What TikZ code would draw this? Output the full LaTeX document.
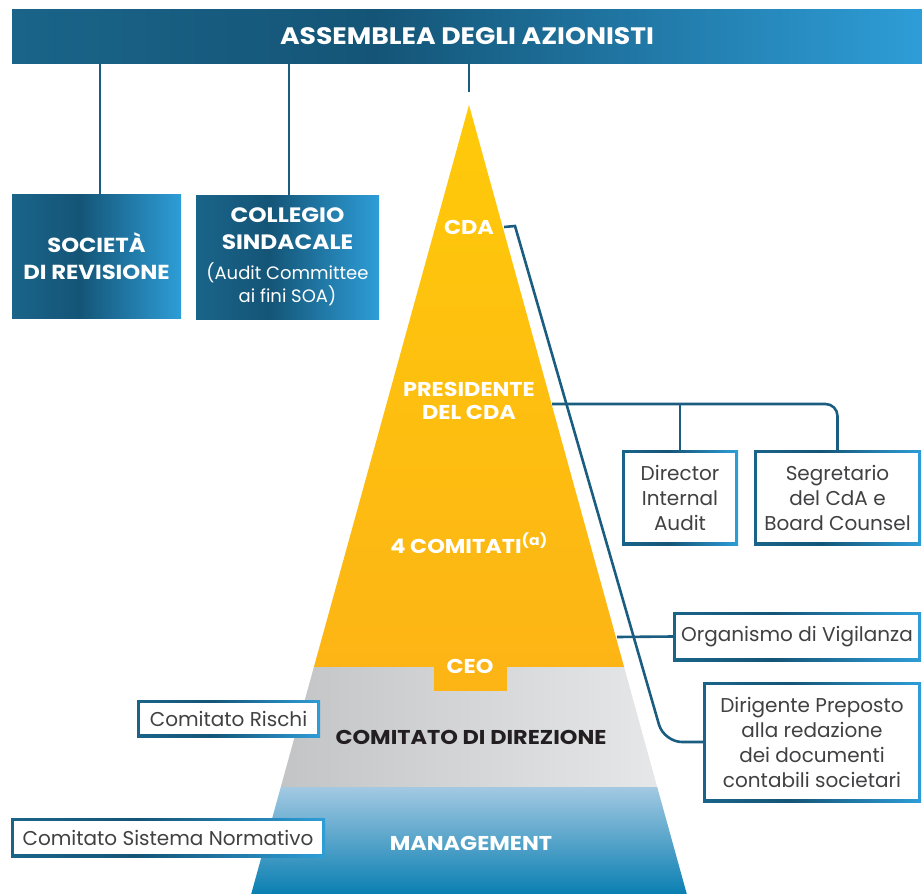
\documentclass[tikz,border=0pt]{standalone}
\usepackage{fontspec}
\setmainfont{Poppins}[BoldFeatures={FakeStretch=1.12}]
\usetikzlibrary{calc}
\definecolor{bA}{HTML}{1A6489}
\definecolor{bB}{HTML}{145577}
\definecolor{bC}{HTML}{2E9DD7}
\definecolor{conncol}{HTML}{1A5D80}
\definecolor{txtgray}{HTML}{414042}
\definecolor{yTop}{HTML}{FFCA0A}
\definecolor{yBot}{HTML}{FDB515}
\definecolor{gL}{HTML}{C3C4C6}
\definecolor{gR}{HTML}{E6E7E8}
\definecolor{mTop}{HTML}{A3C9E2}
\definecolor{mBot}{HTML}{0A7FB2}
\definecolor{darktxt}{HTML}{231F20}
\pgfdeclarehorizontalshading{bshade}{100bp}{color(0bp)=(bA); color(25bp)=(bA); color(45bp)=(bB); color(75bp)=(bC); color(100bp)=(bC)}
\tikzset{
  barbox/.style={rectangle, shading=bshade, inner sep=0pt, outer sep=0pt, text=white, font=\fontsize{23.8}{26}\selectfont\bfseries},
  tealbox/.style={rectangle, shading=bshade, inner sep=0pt, outer sep=0pt, text=white, align=center},
  gbox/.style={rectangle, shading=bshade, inner sep=0pt, outer sep=0pt, text=txtgray, align=center,
    font=\fontsize{20}{25}\selectfont,
    path picture={\fill[white] ([shift={(3.2pt,-3.2pt)}]path picture bounding box.north west) rectangle ([shift={(-3.2pt,3.2pt)}]path picture bounding box.south east);}},
  ptxt/.style={text=white, align=center, inner sep=1pt, font=\fontsize{20}{23}\selectfont\bfseries},
  conn/.style={draw=conncol, line width=2.6pt},
}
\begin{document}
\begin{tikzpicture}[x=1pt,y=-1pt]
\useasboundingbox (0,0) rectangle (922,894);
% pyramid
\shade[top color=yTop, bottom color=yBot] (469,105) -- (624.1,667) -- (313.9,667) -- cycle;
\shade[left color=gL, right color=gR] (313.9,667) -- (624.1,667) -- (657.2,787) -- (280.8,787) -- cycle;
\shade[top color=mTop, bottom color=mBot] (280.8,787) -- (657.2,787) -- (686.8,894) -- (251.2,894) -- cycle;
\fill[yBot] (434,660) rectangle (507,691);
% top bar and boxes
\node[barbox, minimum width=910pt, minimum height=54pt] (ass) at (467,36) {ASSEMBLEA DEGLI AZIONISTI};
\node[tealbox, minimum width=169pt, minimum height=124pt, font=\fontsize{20.3}{27}\selectfont\bfseries] (soc) at (96.5,256) {SOCIETÀ\\DI REVISIONE};
\node[tealbox, minimum width=183pt, minimum height=124pt, font=\fontsize{18}{24}\selectfont] (col) at (287.5,257) {{\fontsize{20.8}{24}\selectfont\bfseries COLLEGIO}\\[3pt]{\fontsize{20.8}{24}\selectfont\bfseries SINDACALE}\\[6pt](Audit Committee\\[-1pt]ai fini SOA)};
% pyramid labels
\node[ptxt] (cda) at (469,227) {CDA};
\node[ptxt] (pres) at (469,401) {PRESIDENTE\\DEL CDA};
\node[ptxt] (com4) at (469,543) {4 COMITATI\textsuperscript{(a)}};
\node[ptxt] (ceo) at (470,666) {CEO};
\node[ptxt, text=darktxt] (cdd) at (471,737) {COMITATO DI DIREZIONE};
\node[ptxt] (mgmt) at (471,843) {MANAGEMENT};
% side boxes
\node[gbox, minimum width=116pt, minimum height=95pt] (dir) at (680,497.5) {Director\\Internal\\Audit};
\node[gbox, minimum width=167pt, minimum height=95pt] (seg) at (837.5,497.5) {Segretario\\del CdA e\\Board Counsel};
\node[gbox, minimum width=248pt, minimum height=49pt] (odv) at (797,636.5) {Organismo di Vigilanza};
\node[gbox, minimum width=218pt, minimum height=120pt] (dp) at (812,742) {Dirigente Preposto\\alla redazione\\dei documenti\\contabili societari};
\node[gbox, minimum width=183pt, minimum height=37pt] (ris) at (228.5,718.5) {Comitato Rischi};
\node[gbox, minimum width=314pt, minimum height=39pt] (csn) at (168,837.5) {Comitato Sistema Normativo};
% connectors
\coordinate (t1) at (100,0);
\coordinate (t2) at (289,0);
\coordinate (t3) at (469,92);
\draw[conn] (ass.south -| t1) -- (soc.north -| t1);
\draw[conn] (ass.south -| t2) -- (col.north -| t2);
\draw[conn] (ass.south -| t3) -- (t3);
\coordinate (k1) at (515,226);
\coordinate (k2) at (600.2,521);
\coordinate (k3) at (664,742);
\draw[conn] ([xshift=9pt]cda.east) -- (k1) -- (k2);
\draw[conn, rounded corners=18pt] (k2) -- (k3) -- (dp.west);
\coordinate (pe) at (552,404);
\draw[conn, rounded corners=12pt] (pe) -- (seg.north |- pe) -- (seg.north);
\draw[conn] (dir.north |- pe) -- (dir.north);
\coordinate (oe) at (617,637);
\draw[conn] (oe) -- (odv.west);
\end{tikzpicture}
\end{document}
